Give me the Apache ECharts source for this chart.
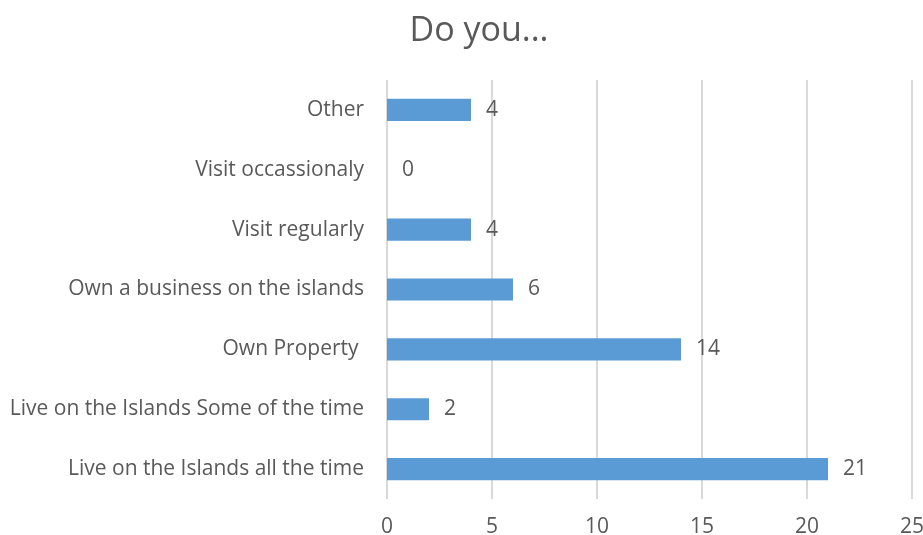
<!DOCTYPE html>
<html>
<head>
<meta charset="utf-8">
<script src="https://cdn.jsdelivr.net/npm/echarts@6/dist/echarts.min.js"></script>
<style>
  html, body { margin: 0; padding: 0; background: #fff; }
  #chart { width: 923px; height: 535px; }
</style>
</head>
<body>
<div id="chart"></div>
<script>
// Survey answers, listed from the bottom row upward
const categories = [
  'Live on the Islands all the time',
  'Live on the Islands Some of the time',
  'Own Property ',
  'Own a business on the islands',
  'Visit regularly',
  'Visit occassionaly',
  'Other'
];
const counts = [21, 2, 14, 6, 4, 0, 4];
const xTicks = [0, 5, 10, 15, 20, 25];

const FONT = '"Open Sans", sans-serif';
const TEXT = '#595959';

const chart = echarts.init(document.getElementById('chart'), null, { renderer: 'canvas' });
chart.setOption({
  animation: false,
  title: {
    text: 'Do you...',
    left: 474,
    textAlign: 'center',
    top: 9,
    textStyle: { fontFamily: FONT, fontSize: 34, fontWeight: 'normal', color: TEXT }
  },
  grid: {
    left: 387, right: 11, top: 80, bottom: 36,
    containLabel: false,
    outerBoundsMode: 'none'
  },
  xAxis: {
    type: 'value',
    min: xTicks[0],
    max: xTicks[xTicks.length - 1],
    interval: 5,
    axisLine: { show: false },
    axisTick: { show: false },
    splitLine: { show: true, lineStyle: { color: '#D9D9D9', width: 2 } },
    axisLabel: { fontFamily: FONT, fontSize: 21, color: TEXT, margin: 18 }
  },
  yAxis: {
    type: 'category',
    data: categories,
    axisLine: { show: false },
    axisTick: { show: false },
    axisLabel: { fontFamily: FONT, fontSize: 21, color: TEXT, margin: 23 }
  },
  series: [{
    type: 'bar',
    data: counts,
    barWidth: '37%',
    itemStyle: { color: '#5B9BD5' },
    label: {
      show: true,
      position: 'right',
      distance: 15,
      fontFamily: FONT,
      fontSize: 21,
      color: TEXT
    }
  }]
});
</script>
</body>
</html>
